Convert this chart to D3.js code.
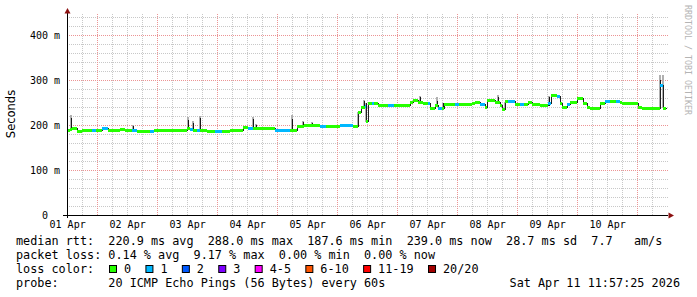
<!DOCTYPE html>
<html>
<head>
<meta charset="utf-8">
<script src="https://cdn.jsdelivr.net/npm/d3@7"></script>
<style>
  body { margin: 0; background: #fff; }
  text { font-family: "DejaVu Sans Mono", monospace; fill: #000; }
</style>
</head>
<body>
<div id="chart"></div>
<script>

// median rtt samples: start of each step in hours after graph start, value in ms, lost pings
var hrs    = [0, 1.2, 2, 4, 6, 10, 11.6, 14, 16.4, 19.2, 21.2, 23.2, 26, 28, 33.2, 34.8, 48, 49.2, 50.4, 52, 53.2, 56, 59.2, 62, 65.2, 70.4, 72.4, 74.4, 77.2, 83.2, 89.2, 92, 94.8, 101.2, 103.6, 109.2, 114.4, 116.4, 117.6, 119.2, 119.6, 120.4, 122, 122.8, 124.4, 128.4, 130.8, 137.2, 138.4, 140.4, 142.4, 144.4, 145.2, 147.2, 148.4, 150, 150.8, 155.2, 156.8, 162, 163.2, 165.2, 167.2, 168, 171.2, 173.2, 174, 175.2, 176.4, 179.2, 181.2, 182.8, 184.4, 186, 189.2, 192.4, 193.6, 196, 197.2, 198, 200, 201.2, 204, 206.4, 208, 209.2, 213.2, 215.2, 217.2, 219.6, 221.2, 222, 228.4, 230, 237.2, 238.4];
var median = [190, 192, 193, 187, 190, 190, 190, 194, 190, 188, 191, 189, 190, 187, 187, 188, 193, 191, 188, 190, 189, 187, 187, 187, 188, 196, 194, 193, 194, 189, 189, 198, 199, 198, 198, 199, 198, 230, 241, 243, 210, 250, 250, 250, 245, 245, 245, 252, 256, 251, 248, 248, 237, 244, 237, 237, 246, 246, 246, 248, 251, 246, 241, 256, 252, 244, 236, 254, 254, 247, 247, 247, 252, 247, 244, 250, 267, 265, 250, 241, 247, 252, 261, 250, 241, 238, 250, 254, 253, 253, 252, 250, 241, 238, 288, 238];
var loss   = [0, 0, 0, 0, 0, 1, 0, 1, 0, 0, 0, 0, 1, 0, 1, 0, 0, 1, 0, 1, 0, 0, 1, 0, 0, 0, 1, 0, 0, 1, 0, 0, 0, 1, 0, 1, 0, 0, 0, 1, 0, 0, 1, 0, 0, 1, 0, 0, 0, 0, 0, 1, 0, 0, 1, 0, 0, 1, 0, 0, 0, 1, 0, 0, 0, 0, 0, 0, 1, 0, 1, 0, 0, 0, 0, 1, 0, 1, 0, 0, 1, 0, 0, 0, 0, 0, 0, 1, 0, 1, 0, 0, 0, 0, 1, 0];
var endHr = 239.4;

// smoke spikes: dark part from lo to mid, light part up to hi
var spikeHrs = [1.4, 26.4, 48.4, 50.4, 53.2, 74.4, 75.6, 90, 94.4, 98, 116.4, 118.8, 119.6, 141.2, 148, 150.4, 172.4, 175.2, 192.8, 237.2, 238.2];
var spikeLo  = [190, 188, 190, 188, 188, 192, 193, 189, 198, 198, 198, 241, 207, 250, 244, 237, 252, 233, 242, 238, 238];
var spikeMid = [215, 198, 211, 205, 215, 213, 200, 213, 207, 204, 230, 254, 250, 263, 254, 250, 263, 252, 263, 300, 285];
var spikeHi  = [222, 200, 218, 208, 220, 218, 203, 222, 210, 206, 230, 256, 250, 265, 262, 250, 266, 252, 265, 311, 311];

var lossLabels = ["0", "1", "2", "3", "4-5", "6-10", "11-19", "20/20"];
var lossColors = ["#26ff00", "#00b8ff", "#0059ff", "#7e00ff", "#ff00ff", "#ff5500", "#ff0000", "#a10000"];

var yTicks = [0, 100, 200, 300, 400];

var legendRows = [
    "median rtt:  220.9 ms avg  288.0 ms max  187.6 ms min  239.0 ms now  28.7 ms sd  7.7   am/s",
    "packet loss: 0.14 % avg  9.17 % max  0.00 % min  0.00 % now",
    "loss color:",
    "probe:       20 ICMP Echo Pings (56 Bytes) every 60s"
];
var stamp = "Sat Apr 11 11:57:25 2026";

var W = 697, H = 297;
var svg = d3.select("#chart").append("svg")
    .attr("width", W).attr("height", H)
    .style("display", "block");

svg.append("rect").attr("width", W).attr("height", H).attr("fill", "#fff");

var start = new Date(2026, 3, 1, 11, 57, 25),
    end = new Date(2026, 3, 11, 11, 57, 25);
var at = function(h) { return new Date(+start + h * 3600e3); };

var x = d3.scaleTime().domain([start, end]).range([67, 667]);
var y = d3.scaleLinear().domain([0, 450]).range([215, 12.5]);
var xRight = 668, yTop = 13;

// grid
var grid = svg.append("g").attr("shape-rendering", "crispEdges")
    .attr("stroke-dasharray", "1,1").attr("stroke-width", 1);

var minorY = d3.range(20, 450, 20).filter(function(v) { return v % 100 != 0; });
grid.selectAll(".hy").data(minorY).enter().append("line")
    .attr("x1", 67).attr("x2", xRight)
    .attr("y1", function(d) { return Math.round(y(d)) + 0.5; })
    .attr("y2", function(d) { return Math.round(y(d)) + 0.5; })
    .attr("stroke", "#c8c8c8");

var minorX = d3.timeHour.every(6).range(start, end).filter(function(d) { return d.getHours() != 0; });
grid.selectAll(".vx").data(minorX).enter().append("line")
    .attr("x1", function(d) { return Math.round(x(d)) + 0.5; })
    .attr("x2", function(d) { return Math.round(x(d)) + 0.5; })
    .attr("y1", 215).attr("y2", yTop)
    .attr("stroke", "#c8c8c8");

grid.selectAll(".my").data(yTicks.slice(1)).enter().append("line")
    .attr("x1", 67).attr("x2", xRight)
    .attr("y1", function(d) { return Math.round(y(d)) + 0.5; })
    .attr("y2", function(d) { return Math.round(y(d)) + 0.5; })
    .attr("stroke", "#ec9494");

grid.selectAll(".mx").data(d3.timeDay.range(start, end)).enter().append("line")
    .attr("x1", function(d) { return Math.round(x(d)) + 0.5; })
    .attr("x2", function(d) { return Math.round(x(d)) + 0.5; })
    .attr("y1", 215).attr("y2", yTop)
    .attr("stroke", "#ec9494");

// smoke
var smoke = svg.append("g").attr("shape-rendering", "crispEdges");
var sx = function(h) { return Math.round(x(at(h))); };
smoke.selectAll(".smokeHi").data(spikeHrs).enter().append("rect")
    .attr("x", function(d) { return sx(d) - 1; })
    .attr("width", 2)
    .attr("y", function(d, i) { return y(spikeHi[i]); })
    .attr("height", function(d, i) { return y(spikeLo[i]) - y(spikeHi[i]); })
    .attr("fill", "#b0b0b0");
smoke.selectAll(".smokeMid").data(spikeHrs).enter().append("rect")
    .attr("x", function(d) { return sx(d); })
    .attr("width", 1)
    .attr("y", function(d, i) { return y(spikeMid[i]); })
    .attr("height", function(d, i) { return y(spikeLo[i]) - y(spikeMid[i]); })
    .attr("fill", "#181818");

// median: thin dark step line, then loss-coloured band
var pts = hrs.map(function(h, i) { return [h, median[i]]; });
pts.push([endHr, median[median.length - 1]]);
var stepLine = d3.line()
    .x(function(d) { return Math.round(x(at(d[0]))) + 0.5; })
    .y(function(d) { return Math.round(y(d[1])) + 0.5; })
    .curve(d3.curveStepAfter);
svg.append("path").datum(pts)
    .attr("d", stepLine)
    .attr("fill", "none").attr("stroke", "#202020").attr("stroke-width", 1)
    .attr("shape-rendering", "crispEdges");

svg.append("g").attr("shape-rendering", "crispEdges")
    .selectAll(".med").data(hrs).enter().append("rect")
    .attr("x", function(d) { return sx(d); })
    .attr("width", function(d, i) {
        var nx = i < hrs.length - 1 ? hrs[i + 1] : endHr;
        return Math.max(1, sx(nx) - sx(d));
    })
    .attr("y", function(d, i) { return Math.round(y(median[i])) - 1; })
    .attr("height", 3)
    .attr("fill", function(d, i) { return lossColors[loss[i]]; });

// axes
var yAxis = svg.append("g")
    .attr("transform", "translate(67,0)")
    .call(d3.axisLeft(y).tickValues(yTicks).tickSize(0).tickPadding(7).tickSizeOuter(0)
        .tickFormat(function(d) { return d == 0 ? "0" : d + " m"; }));
yAxis.select(".domain").attr("stroke", "#000").attr("shape-rendering", "crispEdges")
    .attr("d", "M0.5,218V" + yTop);
yAxis.selectAll("text").attr("font-family", "DejaVu Sans Mono").attr("font-size", 10)
    .attr("dy", "0.35em")
    .attr("x", function(d) { return d == 0 ? -19 : -7; });

var labelDays = d3.timeDay.range(start, end).map(function(d) { return d3.timeHour.offset(d, -12); });
var xAxis = svg.append("g")
    .attr("transform", "translate(0,215)")
    .call(d3.axisBottom(x).tickValues(labelDays).tickSize(0).tickPadding(6).tickSizeOuter(0)
        .tickFormat(d3.timeFormat("%d %b")));
xAxis.select(".domain").attr("stroke", "#000").attr("shape-rendering", "crispEdges")
    .attr("d", "M63,0.5H" + xRight);
xAxis.selectAll("text").attr("font-family", "DejaVu Sans Mono").attr("font-size", 10);

// arrows
svg.append("path").attr("d", "M67.5,8L64.5,13.5L70.5,13.5Z").attr("fill", "#8c1010");
svg.append("path").attr("d", "M674,215.5L668.5,212.5L668.5,218.5Z").attr("fill", "#8c1010");

// titles
svg.append("text")
    .attr("transform", "translate(15,114) rotate(-90)")
    .attr("text-anchor", "middle")
    .style("font-family", "'DejaVu Sans', sans-serif")
    .attr("font-size", 11.5)
    .text("Seconds");

svg.append("text")
    .attr("transform", "translate(684.5,5) rotate(90)")
    .attr("font-size", 8.3)
    .style("fill", "#b4b4b4")
    .text("RRDTOOL / TOBI OETIKER");

// legend
var rowY = [244.5, 258.8, 273, 287.3];
svg.selectAll(".leg").data(legendRows).enter().append("text")
    .attr("x", 16)
    .attr("y", function(d, i) { return rowY[i]; })
    .attr("font-size", 11.8)
    .style("white-space", "pre")
    .text(function(d) { return d; });

svg.append("text")
    .attr("x", 680).attr("y", rowY[3])
    .attr("text-anchor", "end")
    .attr("font-size", 11.8)
    .text(stamp);

var lx = 109;
lossLabels.forEach(function(lab, i) {
    svg.append("rect")
        .attr("x", lx + 0.5).attr("y", 265.5)
        .attr("width", 7).attr("height", 7)
        .attr("fill", lossColors[i]).attr("stroke", "#000");
    svg.append("text")
        .attr("x", lx + 15).attr("y", rowY[2])
        .attr("font-size", 11.8)
        .text(lab);
    lx += 15 + lab.length * 7.12 + 14.3;
});

</script>
</body>
</html>
